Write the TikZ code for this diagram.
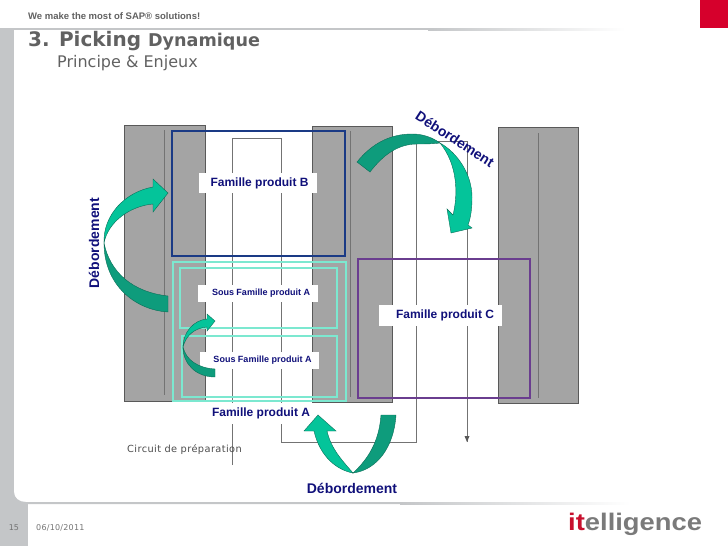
\documentclass[tikz,border=0pt]{standalone}
\usepackage{fontspec}
\setmainfont{Liberation Sans}
\newfontfamily\verd{DejaVu Sans}
\definecolor{barg}{HTML}{C4C6C8}
\definecolor{colg}{HTML}{A4A4A4}
\definecolor{navyt}{HTML}{10107A}
\definecolor{bright}{HTML}{04C49A}
\definecolor{darkt}{HTML}{0E9C7C}
\definecolor{tealr}{HTML}{7CE8D0}
\definecolor{bluer}{HTML}{1A3A85}
\definecolor{purp}{HTML}{6A3D8F}
\definecolor{itgray}{HTML}{7A7A7A}
\definecolor{itred}{HTML}{C8102E}
\definecolor{cornerred}{HTML}{D6002C}
\tikzset{
 column/.style={fill=colg,draw=black!65,line width=0.6pt},
 aisle/.style={draw=black!55,line width=0.8pt},
 tealbox/.style={draw=tealr,line width=1.8pt},
 whitelab/.style={fill=white,inner sep=0pt,text=navyt,font=\bfseries\fontsize{12}{12}\selectfont,align=center},
 sublab/.style={whitelab,font=\bfseries\fontsize{9}{9}\selectfont},
 deb/.style={text=navyt,inner sep=0pt,font=\bfseries\fontsize{14}{14}\selectfont},
 brightp/.style={fill=bright,draw=darkt!70!black,line width=0.4pt},
 darkp/.style={fill=darkt,draw=darkt!70!black,line width=0.4pt},
}
\begin{document}
\begin{tikzpicture}[x=1pt,y=-1pt]
\useasboundingbox (0,0) rectangle (728,546);
% frame
\fill[barg] (0,28) rectangle (428,30);
\shade[left color=barg,right color=white] (428,28) rectangle (625,30);
\fill[cornerred] (700,0) rectangle (728,28);
\fill[barg] (0,28) rectangle (14,546);
\fill[barg] (0,503) rectangle (28,546);
\shade[left color=barg,right color=white] (400,502) rectangle (630,504);
\fill[barg] (14,492) -- (14,504) -- (400,504) -- (400,502) -- (26,502) .. controls (19,502) and (14,498) .. (14,492) -- cycle;
% header
\node[anchor=west,inner sep=0pt,text=black!62,font=\bfseries\fontsize{9.5}{10}\selectfont] (tag) at (28,16) {We make the most of SAP® solutions!};
\node[anchor=west,inner sep=0pt,text=black!62] (ttl) at (28,41.5) {\verd\bfseries\fontsize{20}{20}\selectfont 3. Picking \fontsize{17.6}{20}\selectfont Dynamique};
\node[anchor=west,inner sep=0pt,text=black!62] (sub) at (57,63) {\verd\fontsize{16}{18}\selectfont Principe \& Enjeux};
% columns
\draw[column] (124,125) rectangle (205,401);
\draw[column] (312,126) rectangle (392,402);
\draw[column] (498,127) rectangle (578,403);
\draw[aisle] (164,130) -- (164,395);
\draw[aisle] (350,131) -- (350,397);
\draw[aisle] (538,133) -- (538,398);
% circuit
\coordinate (c1) at (232.5,465);
\coordinate (c2) at (232.5,138.5);
\coordinate (c3) at (281,138.5);
\coordinate (c4) at (281,442);
\coordinate (c5) at (416.5,442);
\coordinate (c6) at (416.5,141);
\coordinate (c7) at (467,141);
\coordinate (c8) at (467,442);
\draw[aisle] (c1) -- (c2) -- (c3) -- (c4) -- (c5) -- (c6) -- (c7) -- (c8);
\fill[black!65] (467,442) -- (464.5,436) -- (469.5,436) -- cycle;
% rectangles
\draw[bluer,line width=1.8pt] (172,131) rectangle (345,256);
\draw[tealbox] (173,262) rectangle (346,401);
\draw[tealbox] (180,268) rectangle (337,328);
\draw[tealbox] (182,336) rectangle (337,397);
\draw[purp,line width=1.6pt] (358,259) rectangle (530,398);
% labels
\node[whitelab,minimum width=118pt,minimum height=20pt] (fb) at (258,183) {\hspace*{3pt}Famille produit B};
\node[sublab,minimum width=120pt,minimum height=17pt] (sa1) at (258,293.5) {\hspace*{6pt}Sous Famille produit A};
\node[sublab,minimum width=119pt,minimum height=17pt] (sa2) at (259.5,360.5) {\hspace*{6pt}Sous Famille produit A};
\node[whitelab,minimum width=120pt,minimum height=21pt] (fa) at (261,413.5) {Famille produit A};
\node[whitelab,minimum width=123pt,minimum height=21pt] (fc) at (440.5,315.5) {\hspace*{9pt}Famille produit C};
\node[deb,rotate=90] (d1) at (94,243) {Débordement};
\node[deb,rotate=-33] (d2) at (455,139) {Débordement};
\node[deb] (d3) at (352,488) {Débordement};
\node[anchor=west,inner sep=0pt,text=black!70] (circ) at (127,450) {\verd\fontsize{9.8}{10}\selectfont\addfontfeature{LetterSpace=4}Circuit de préparation};
% left arrow
\draw[darkp] (168,296) .. controls (132,292) and (110,272) .. (104,243) .. controls (104,285) and (135,310) .. (168,312) -- cycle;
\draw[brightp] (104,243) .. controls (108,222) and (130,206) .. (153,204) -- (153,212) -- (168,193) -- (153,179) -- (153,187) .. controls (125,192) and (103,215) .. (104,243) -- cycle;
% top arrow
\draw[darkp] (357,162) .. controls (373,142) and (392,134) .. (412,134) .. controls (424,134) and (433,138) .. (440,143) .. controls (432,144) and (424,144) .. (417,144) .. controls (398,144) and (383,155) .. (370,172) -- cycle;
\draw[brightp] (440,143) .. controls (458,153) and (472,175) .. (472,197) .. controls (472,208) and (471,217) .. (468,225) -- (472,228) -- (451,233) -- (447,209) -- (453,215) .. controls (458,195) and (458,165) .. (440,143) -- cycle;
% bottom arrow
\draw[darkp] (381,415) .. controls (379,443) and (367,460) .. (353,473) .. controls (377,470) and (394,447) .. (396,415) -- cycle;
\draw[brightp] (353,473) .. controls (340,458) and (331,448) .. (327,431) -- (336,431) -- (318,415) -- (304,431) -- (314,431) .. controls (320,457) and (337,470) .. (353,473) -- cycle;
% small arrow
\draw[darkp] (215,369) .. controls (198,368) and (186,360) .. (183,347) .. controls (183,364) and (196,377) .. (215,377) -- cycle;
\draw[brightp] (183,347) .. controls (186,335) and (195,328) .. (207,327) -- (207,331) -- (215,321) -- (207,314) -- (207,319) .. controls (194,320) and (183,332) .. (183,347) -- cycle;
% footer
\node[inner sep=0pt,text=black!55] (pg) at (14,528) {\verd\fontsize{8}{9}\selectfont 15};
\node[anchor=west,inner sep=0pt,text=black!55] (dt) at (36,528) {\verd\fontsize{8}{9}\selectfont\addfontfeature{LetterSpace=3}06/10/2011};
\node[anchor=west,inner sep=0pt,xscale=1.14] (logo) at (568,524) {\fontsize{24}{24}\selectfont\bfseries\textcolor{itred}{it}\textcolor{itgray}{elligence}};
\end{tikzpicture}
\end{document}
